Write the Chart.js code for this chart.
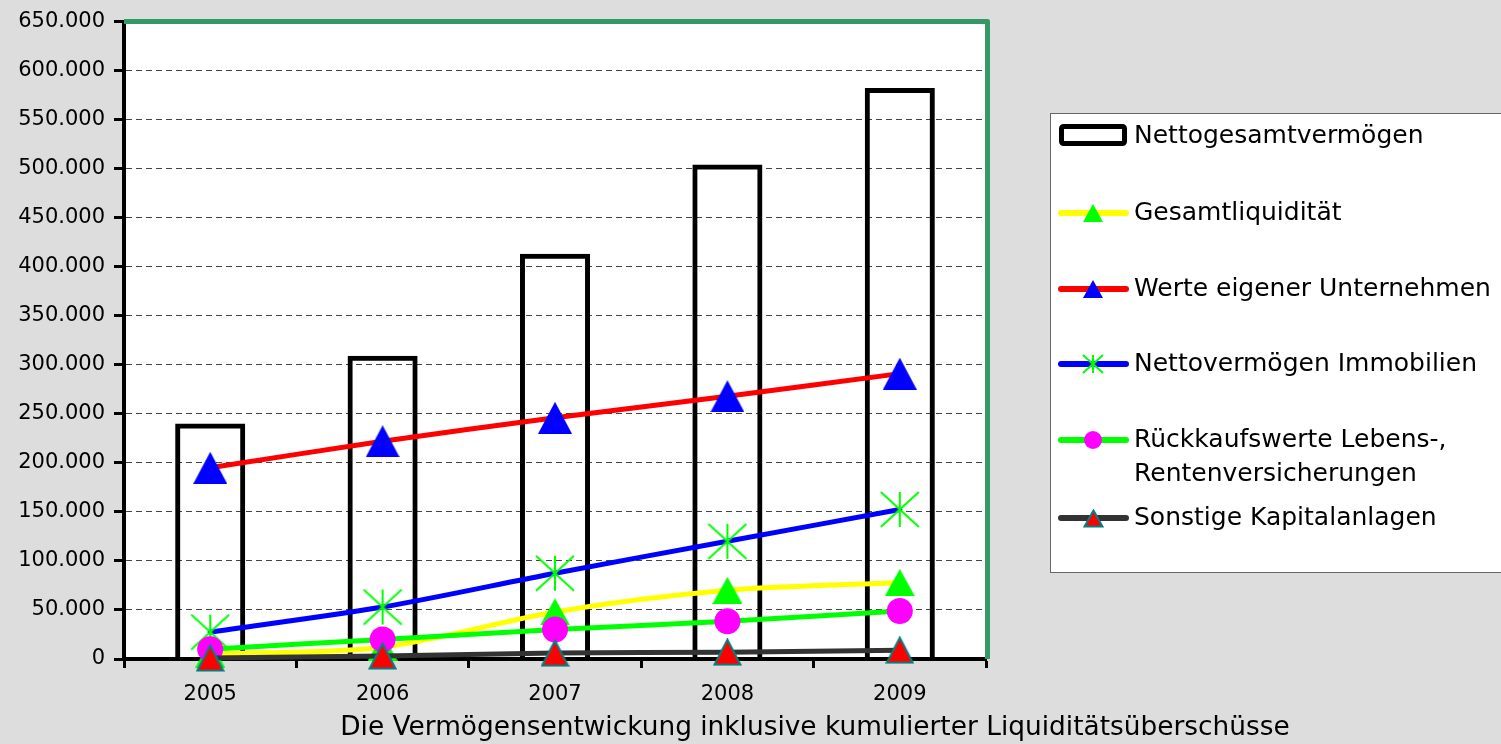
<!DOCTYPE html>
<html><head><meta charset="utf-8">
<script src="https://cdn.jsdelivr.net/npm/chart.js@4.4.1/dist/chart.umd.min.js"></script>
<style>html,body{margin:0;padding:0;background:#DDDDDD;}#wrap{width:1501px;height:744px;position:relative;}canvas{display:block;}</style>
</head><body><div id="wrap"><canvas id="c" width="1501" height="744"></canvas></div>
<script>
const categories = ['2005', '2006', '2007', '2008', '2009'];
const nettogesamtvermoegen = [239000, 308000, 412000, 503000, 581000];
const gesamtliquiditaet = [5000, 12000, 48000, 70000, 78000];
const werteEigenerUnternehmen = [195000, 222000, 246000, 268000, 291000];
const nettovermoegenImmobilien = [27500, 53000, 87500, 120000, 152500];
const rueckkaufswerte = [10000, 20000, 30000, 38500, 49000];
const sonstigeKapitalanlagen = [1000, 3000, 6000, 7000, 9000];
const seriesLabels = ['Nettogesamtvermögen', 'Gesamtliquidität', 'Werte eigener Unternehmen', 'Nettovermögen Immobilien', 'Rückkaufswerte Lebens-,\nRentenversicherungen', 'Sonstige Kapitalanlagen'];
const yMin = 0, yMax = 650000, yStep = 50000;
const xAxisTitle = 'Die Vermögensentwickung inklusive kumulierter Liquiditätsüberschüsse';

const FONT = '"DejaVu Sans", "Liberation Sans", Arial, sans-serif';

function makeAsterisk(w, h, color, lw) {
  const c = document.createElement('canvas');
  c.width = w; c.height = h;
  const g = c.getContext('2d');
  g.strokeStyle = color; g.lineWidth = lw;
  g.beginPath();
  g.moveTo(w / 2, 1); g.lineTo(w / 2, h - 1);
  g.moveTo(1, 1); g.lineTo(w - 1, h - 1);
  g.moveTo(w - 1, 1); g.lineTo(1, h - 1);
  g.stroke();
  return c;
}
function makeTriangle(w, h, fill, stroke, lw) {
  const c = document.createElement('canvas');
  c.width = w; c.height = h;
  const g = c.getContext('2d');
  const m = lw ? lw / 2 + 0.5 : 0;
  g.beginPath();
  g.moveTo(w / 2, m);
  g.lineTo(w - m, h - m);
  g.lineTo(m, h - m);
  g.closePath();
  g.fillStyle = fill; g.fill();
  if (lw) { g.lineWidth = lw; g.strokeStyle = stroke; g.lineJoin = 'miter'; g.stroke(); }
  return c;
}
const asteriskBig = makeAsterisk(40, 37, '#00FF00', 2);
const asteriskSmall = makeAsterisk(22, 20, '#00FF00', 2);
const triGreen = makeTriangle(30, 27, '#00FF00');
const triBlue = makeTriangle(34, 32, '#0000FF');
const triRed = makeTriangle(29, 28, '#FF0000', '#008080', 2);
const legendMarks = [null, makeTriangle(20, 18, '#00FF00'), makeTriangle(20, 18, '#0000FF'), asteriskSmall, 'circle', makeTriangle(21, 19, '#FF0000', '#008080', 2)];

function fmt(v) { return String(v).replace(/\B(?=(\d{3})+(?!\d))/g, '.'); }

const plotBg = {
  id: 'plotBg',
  beforeDraw(chart) {
    const {ctx, chartArea: a} = chart;
    ctx.save();
    ctx.fillStyle = '#FFFFFF';
    ctx.fillRect(a.left, a.top, a.right - a.left, a.bottom - a.top);
    ctx.restore();
  }
};
const greenFrame = {
  id: 'greenFrame',
  beforeDatasetsDraw(chart) {
    const {ctx, chartArea: a} = chart;
    ctx.save();
    ctx.strokeStyle = '#339966';
    ctx.lineWidth = 5;
    ctx.lineJoin = 'round';
    ctx.beginPath();
    ctx.moveTo(a.left, a.top);
    ctx.lineTo(a.right + 1.5, a.top);
    ctx.lineTo(a.right + 1.5, a.bottom);
    ctx.stroke();
    ctx.restore();
  }
};
const boxLegend = {
  id: 'boxLegend',
  afterDraw(chart) {
    const ctx = chart.ctx;
    ctx.save();
    ctx.fillStyle = '#FFFFFF';
    ctx.fillRect(1050.5, 113.5, 470, 459);
    ctx.strokeStyle = '#666666'; ctx.lineWidth = 1;
    ctx.strokeRect(1050.5, 113.5, 470, 459);
    const ys = [136, 213, 289, 364, 440, 518];
    chart.data.datasets.forEach((ds, i) => {
      const y = ys[i];
      if (ds.type === 'bar') {
        ctx.fillStyle = '#FFFFFF';
        ctx.strokeStyle = ds.borderColor;
        ctx.lineWidth = 5;
        ctx.beginPath();
        ctx.roundRect(1061.5, y - 9.5, 63, 17, 2);
        ctx.fill(); ctx.stroke();
      } else {
        ctx.strokeStyle = ds.borderColor;
        ctx.lineWidth = 6; ctx.lineCap = 'round';
        ctx.beginPath(); ctx.moveTo(1061, y); ctx.lineTo(1126, y); ctx.stroke();
        const cx = 1093;
        const mk = legendMarks[i];
        if (mk === 'circle') {
          ctx.fillStyle = ds.pointBackgroundColor;
          ctx.beginPath(); ctx.arc(cx, y, 9, 0, Math.PI * 2); ctx.fill();
        } else if (mk) {
          ctx.drawImage(mk, Math.round(cx - mk.width / 2), Math.round(y - mk.height / 2));
        }
      }
      ctx.fillStyle = '#000000';
      ctx.font = '25px ' + FONT;
      ctx.textBaseline = 'middle';
      ctx.textAlign = 'left';
      seriesLabels[i].split('\n').forEach((t, k) => ctx.fillText(t, 1134, y + k * 34));
    });
    ctx.font = '26.4px ' + FONT;
    ctx.textAlign = 'center';
    ctx.fillText(xAxisTitle, 815, 728);
    ctx.restore();
  }
};

const lineBase = {type: 'line', borderWidth: 5, tension: 0.3, fill: false, borderCapStyle: 'round', borderJoinStyle: 'round', clip: false, pointBorderWidth: 0};

new Chart(document.getElementById('c'), {
  data: {
    labels: categories,
    datasets: [
      {type: 'bar', label: seriesLabels[0], data: nettogesamtvermoegen, backgroundColor: 'rgba(255,255,255,0)', borderColor: '#000000', borderWidth: 2.5, borderSkipped: 'start', inflateAmount: 1.25, barPercentage: 0.392, categoryPercentage: 1, order: 10},
      Object.assign({}, lineBase, {label: seriesLabels[1], data: gesamtliquiditaet, borderColor: '#FFFF00', pointStyle: triGreen, pointRadius: 15, pointBackgroundColor: '#00FF00', order: 5}),
      Object.assign({}, lineBase, {label: seriesLabels[2], data: werteEigenerUnternehmen, borderColor: '#FF0000', pointStyle: triBlue, pointRadius: 17, pointBackgroundColor: '#0000FF', order: 4}),
      Object.assign({}, lineBase, {label: seriesLabels[3], data: nettovermoegenImmobilien, borderColor: '#0000FF', pointStyle: asteriskBig, pointRadius: 19, pointBackgroundColor: '#00FF00', order: 3}),
      Object.assign({}, lineBase, {label: seriesLabels[4], data: rueckkaufswerte, borderColor: '#00FF00', pointStyle: 'circle', pointRadius: 13, pointBackgroundColor: '#FF00FF', pointBorderColor: '#FF00FF', order: 2}),
      Object.assign({}, lineBase, {label: seriesLabels[5], data: sonstigeKapitalanlagen, borderColor: '#333333', pointStyle: triRed, pointRadius: 14, pointBackgroundColor: '#FF0000', order: 1})
    ]
  },
  options: {
    responsive: false,
    animation: false,
    layout: {padding: {top: 20, right: 515, bottom: 0, left: 0}},
    plugins: {legend: {display: false}, tooltip: {enabled: false}},
    scales: {
      x: {
        offset: true,
        grid: {offset: true, drawOnChartArea: false, drawTicks: true, tickLength: 9, tickWidth: 3, tickColor: '#000000'},
        border: {color: '#000000', width: 4},
        ticks: {color: '#000000', font: {family: FONT, size: 21}, padding: 14, maxRotation: 0},
        afterFit(s) { s.height = 85; }
      },
      y: {
        min: yMin, max: yMax,
        grid: {color: '#444444', lineWidth: 1, tickLength: 10, tickWidth: 3, tickColor: '#000000', tickBorderDash: []},
        border: {color: '#000000', width: 4, dash: [6, 4]},
        ticks: {stepSize: yStep, color: '#000000', font: {family: FONT, size: 21}, padding: 9, callback: v => fmt(v)},
        afterFit(s) { s.width = 124; }
      }
    }
  },
  plugins: [plotBg, greenFrame, boxLegend]
});
</script></body></html>
